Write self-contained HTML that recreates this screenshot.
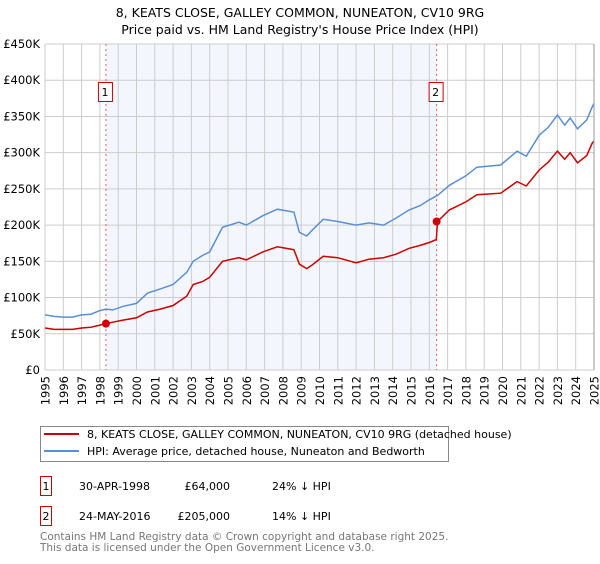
<!DOCTYPE html>
<html><head><meta charset="utf-8"><style>
body{margin:0;background:#fff;width:600px;height:560px;overflow:hidden;font-family:"DejaVu Sans","Liberation Sans",sans-serif;}
svg text{font-family:"DejaVu Sans","Liberation Sans",sans-serif;}
</style></head><body>
<svg id="chart" width="600" height="560">
<text x="300" y="17" text-anchor="middle" font-size="12.5">8, KEATS CLOSE, GALLEY COMMON, NUNEATON, CV10 9RG</text>
<text x="300" y="34" text-anchor="middle" font-size="12.5">Price paid vs. HM Land Registry's House Price Index (HPI)</text>
<g id="plot"></g>
<g>
<rect x="40.5" y="426.5" width="408" height="35" fill="#fff" stroke="#888"/>
<line x1="44" y1="434" x2="79" y2="434" stroke="#cc0000" stroke-width="2"/>
<text x="87" y="438" font-size="11">8, KEATS CLOSE, GALLEY COMMON, NUNEATON, CV10 9RG (detached house)</text>
<line x1="44" y1="451" x2="79" y2="451" stroke="#5b8fd4" stroke-width="2"/>
<text x="87" y="455" font-size="11">HPI: Average price, detached house, Nuneaton and Bedworth</text>
</g>
<g font-size="11">
<rect x="40.5" y="476.5" width="11" height="19" fill="none" stroke="#cc0000"/>
<text x="46" y="490" text-anchor="middle">1</text>
<text x="79" y="490">30-APR-1998</text><text x="230" y="490" text-anchor="end">£64,000</text><text x="272" y="490">24% ↓ HPI</text>
<rect x="40.5" y="506.5" width="11" height="19" fill="none" stroke="#cc0000"/>
<text x="46" y="520" text-anchor="middle">2</text>
<text x="79" y="520">24-MAY-2016</text><text x="230" y="520" text-anchor="end">£205,000</text><text x="272" y="520">14% ↓ HPI</text>
</g>
<text x="40" y="540" font-size="10.5" fill="#777">Contains HM Land Registry data © Crown copyright and database right 2025.</text>
<text x="40" y="551" font-size="10.5" fill="#777">This data is licensed under the Open Government Licence v3.0.</text>
</svg>
<script>
const years=[1995,1995.5,1996,1996.5,1997,1997.5,1998,1998.33,1998.7,1999.3,2000,2000.6,2001.3,2002,2002.75,2003.1,2003.6,2004,2004.7,2005.6,2006,2006.9,2007.7,2008.6,2008.9,2009.3,2009.6,2010.2,2011,2012,2012.7,2013.5,2014.2,2014.9,2015.5,2016,2016.38,2016.45,2017.1,2018,2018.6,2019.9,2020.8,2021.3,2022,2022.5,2023,2023.4,2023.7,2024.1,2024.6,2024.9,2025];
const hpiValues=[76,74,73,73,76,77,82,84,83,88,92,106,112,118,135,150,158,163,197,204,200,213,222,218,190,185,193,208,205,200,203,200,210,221,227,235,240,241,255,268,280,283,302,295,324,335,352,338,348,333,345,363,368];
const priceValues=[58,56,56,56,58,59,62,64,66,69,72,80,84,89,102,118,122,128,150,155,152,163,170,166,146,140,145,157,155,148,153,155,160,168,172,176,180,205,221,232,242,244,260,254,276,287,302,291,300,286,296,313,316];
const saleYears=[1998.33,2016.4];
const saleValues=[64,205];
const saleLabels=["1","2"];
const yTicks=[0,50,100,150,200,250,300,350,400,450];
const xTicks=[1995,1996,1997,1998,1999,2000,2001,2002,2003,2004,2005,2006,2007,2008,2009,2010,2011,2012,2013,2014,2015,2016,2017,2018,2019,2020,2021,2022,2023,2024,2025];
const X0=45,X1=594,Y0=370,Y1=44;
const xs=y=>X0+(y-1995)/30*(X1-X0);
const ys=v=>Y0-v/450*(Y0-Y1);
const NS="http://www.w3.org/2000/svg";
const g=document.getElementById('plot');
function mk(t,a){const e=document.createElementNS(NS,t);for(const k in a)e.setAttribute(k,a[k]);g.appendChild(e);return e;}
const shade=mk('rect',{x:xs(saleYears[0]),y:Y1,width:xs(saleYears[1])-xs(saleYears[0]),height:Y0-Y1,fill:'#eef3fc',opacity:0.7});


xTicks.forEach(t=>{
 const l=mk('line',{x1:xs(t),x2:xs(t),y1:Y1,y2:Y0,stroke:'#ccc'});
 
 
 const px=xs(t)+4.5, py=376;
 const tx=mk('text',{x:px,y:py,'text-anchor':'end','font-size':11.5,transform:'rotate(-90 '+px+' '+py+')'});
 tx.textContent=t;
 
 
});
yTicks.forEach(t=>{
 const l=mk('line',{x1:X0,x2:X1,y1:ys(t),y2:ys(t),stroke:'#ccc'});
 
 
 const tx=mk('text',{x:40,y:ys(t)+4,'text-anchor':'end','font-size':11.5});
 tx.textContent=t===0?'£0':'£'+t+'K';
 
 
});
saleYears.forEach((s,i)=>{
 const l=mk('line',{x1:xs(s),x2:xs(s),y1:Y1,y2:Y0,stroke:'#e06060','stroke-dasharray':'2,3'});
 
 
 const r=mk('rect',{x:xs(s)-7.5,y:82.5,width:14,height:19,fill:'#fff',stroke:'#cc0000'});
 
 
 const t=mk('text',{x:xs(s)-1,y:96,'text-anchor':'middle','font-size':11});
 t.textContent=saleLabels[i];
 
 
});
const pts=a=>years.map((y,i)=>xs(y).toFixed(1)+','+ys(a[i]).toFixed(1)).join(' ');
const hl=mk('polyline',{points:pts(hpiValues),fill:'none',stroke:'#5b8fd4','stroke-width':1.5});


const pl=mk('polyline',{points:pts(priceValues),fill:'none',stroke:'#cc0000','stroke-width':1.5});


saleYears.forEach((s,i)=>{
 const c=mk('circle',{cx:xs(s),cy:ys(saleValues[i]),r:4,fill:'#cc0000'});
 
 
});
const ax=mk('line',{x1:X1,x2:X1,y1:Y1,y2:Y0,stroke:'#999'});


</script>
</body></html>
